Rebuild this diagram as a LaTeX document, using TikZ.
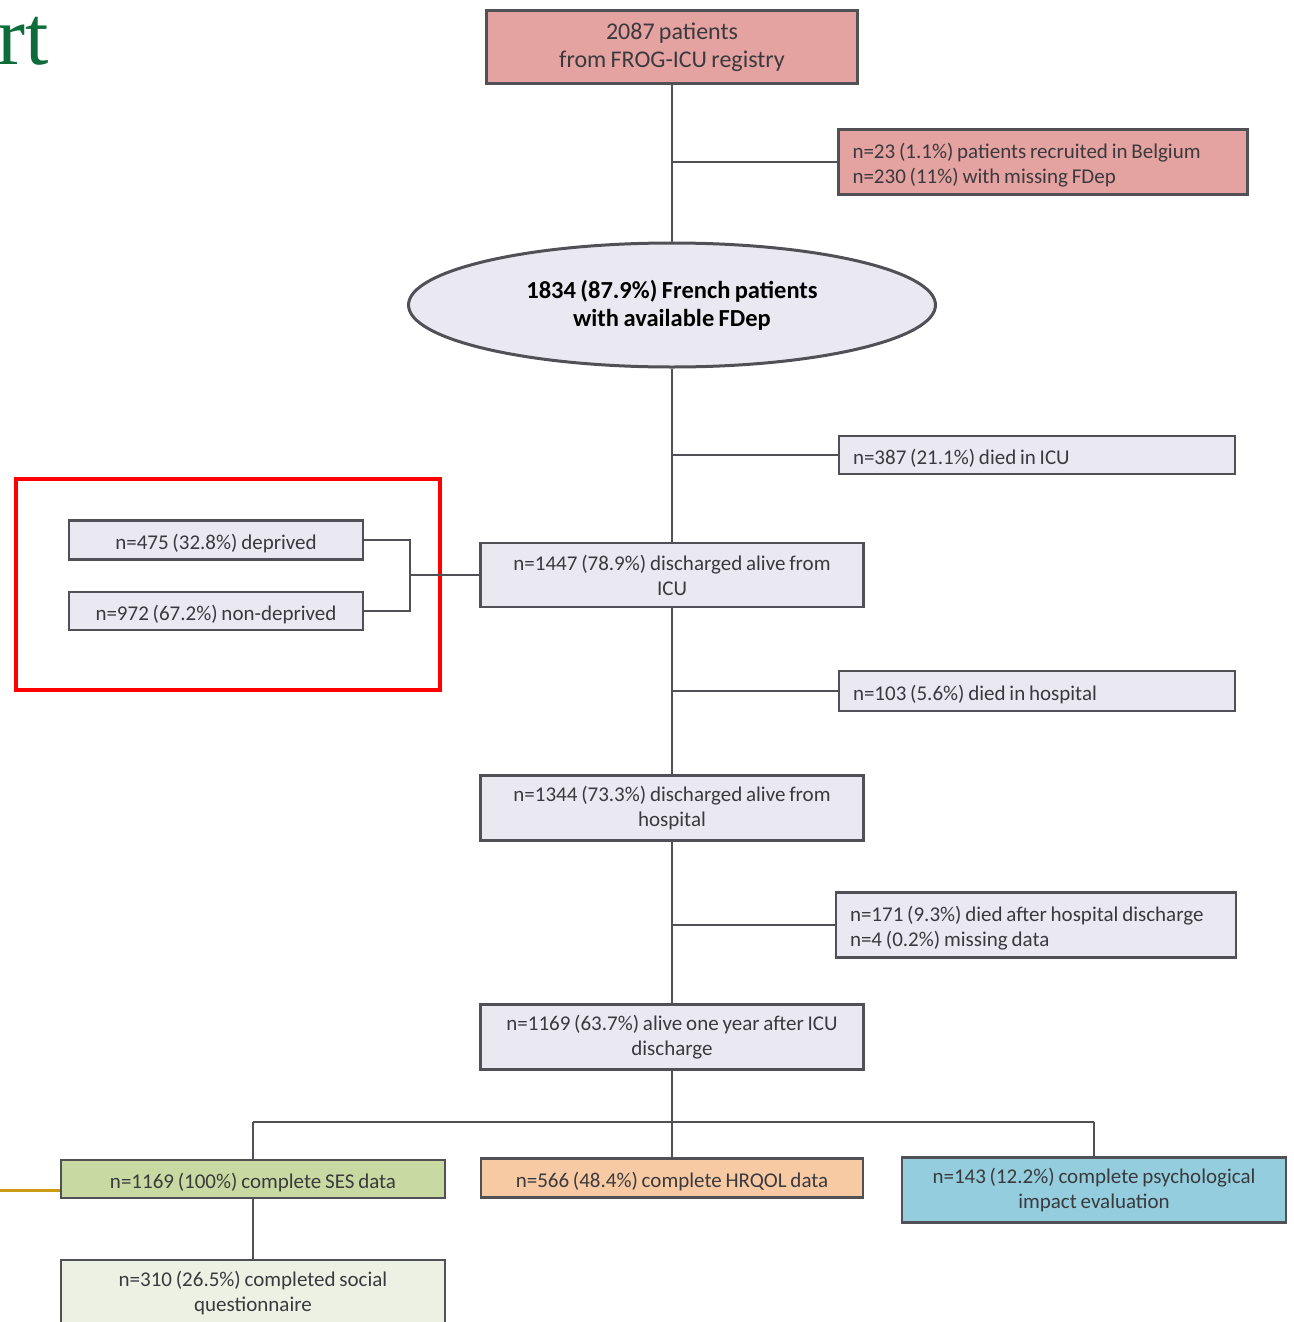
\documentclass[tikz,border=0pt]{standalone}
\usepackage{fontspec}
\setmainfont{Carlito}[WordSpace=0.8]
\newfontfamily\titlefont{Liberation Serif}
\usetikzlibrary{shapes.geometric}

\definecolor{boxline}{RGB}{80,80,86}
\definecolor{boxfill}{RGB}{234,232,240}
\definecolor{pinkfill}{RGB}{228,162,160}
\definecolor{greenfill}{RGB}{200,218,162}
\definecolor{palegreen}{RGB}{237,241,227}
\definecolor{orangefill}{RGB}{248,202,164}
\definecolor{bluefill}{RGB}{148,206,222}
\definecolor{txt}{RGB}{58,58,62}
\definecolor{titlegreen}{RGB}{12,108,58}
\definecolor{gold}{RGB}{204,154,18}

\begin{document}
\begin{tikzpicture}%
	[x=1pt, y=-1pt,
	box/.style={draw=boxline, line width=2.2pt, fill=boxfill, text=txt,
		font=\fontsize{21}{25}\selectfont, align=center, inner sep=0pt,
		execute at begin node={\rule{0pt}{22pt}}},
	sidebox/.style={box, align=flush left, inner xsep=14pt},
	link/.style={draw=boxline, line width=2pt}]
\useasboundingbox (0,0) rectangle (1293,1322);
%%
%% Title remnant and markers
%%
\node[titlegreen, font=\titlefont\fontsize{84}{84}\selectfont, anchor=base east, inner sep=0pt] (title) at (49,64) {rt};
\draw[red, line width=4pt] (16,479) rectangle (440,690);
\draw[gold, line width=3pt] (0,1190) -- (61,1190);
%%
%% Main column
%%
\node[box, fill=pinkfill, minimum width=371, minimum height=73, font=\fontsize{24}{28}\selectfont,
	execute at begin node={\rule{0pt}{25pt}}] (registry) at (672,47) {2087 patients\\from FROG-ICU registry};
\node[ellipse, draw=boxline, line width=3pt, fill=boxfill, text=black, minimum width=527, minimum height=124,
	font=\bfseries\fontsize{24.5}{28}\selectfont, align=center, inner sep=0pt,
	execute at begin node={\rule{0pt}{24pt}}] (french) at (672,305) {1834 (87.9\%) French patients\\with available FDep};
\node[box, minimum width=383, minimum height=64] (icu) at (672,575) {n=1447 (78.9\%) discharged alive from\\ICU};
\node[box, minimum width=383, minimum height=65] (hosp) at (672,808) {n=1344 (73.3\%) discharged alive from\\hospital};
\node[box, minimum width=383, minimum height=65] (alive) at (672,1037) {n=1169 (63.7\%) alive one year after ICU\\discharge};
%%
%% Exclusions
%%
\node[sidebox, fill=pinkfill, text width=381, minimum height=65] (belgium) at (1043,162) {n=23 (1.1\%) patients recruited in Belgium\\n=230 (11\%) with missing FDep};
\node[sidebox, text width=368, minimum height=38] (diedicu) at (1037,455) {n=387 (21.1\%) died in ICU};
\node[sidebox, text width=368, minimum height=40] (diedhosp) at (1037,691) {n=103 (5.6\%) died in hospital};
\node[sidebox, text width=372, minimum height=65] (diedafter) at (1036,925) {n=171 (9.3\%) died after hospital discharge\\n=4 (0.2\%) missing data};
%%
%% Deprivation split
%%
\node[box, minimum width=294, minimum height=39] (deprived) at (216,540) {n=475 (32.8\%) deprived};
\node[box, minimum width=294, minimum height=38] (nondeprived) at (216,611) {n=972 (67.2\%) non-deprived};
\coordinate (split) at (410,575);
%%
%% Outcomes
%%
\node[box, fill=greenfill, minimum width=384, minimum height=38] (ses) at (253,1179) {n=1169 (100\%) complete SES data};
\node[box, fill=orangefill, minimum width=382, minimum height=39] (hrqol) at (672,1178) {n=566 (48.4\%) complete HRQOL data};
\node[box, fill=bluefill, minimum width=384, minimum height=65] (psy) at (1094,1190) {n=143 (12.2\%) complete psychological\\impact evaluation};
\node[box, fill=palegreen, minimum width=384, minimum height=66] (social) at (253,1293) {n=310 (26.5\%) completed social\\questionnaire};
\coordinate (bar) at (672,1122);
%%
%% Connectors
%%
\draw[link] (registry) -- (french);
\draw[link] (french) -- (icu);
\draw[link] (icu) -- (hosp);
\draw[link] (hosp) -- (alive);
\draw[link] (alive) -- (bar);
\draw[link] (registry.south |- belgium.west) -- (belgium.west);
\draw[link] (french.south |- diedicu.west) -- (diedicu.west);
\draw[link] (icu.south |- diedhosp.west) -- (diedhosp.west);
\draw[link] (hosp.south |- diedafter.west) -- (diedafter.west);
\draw[link] (deprived.east) -| (split) |- (nondeprived.east);
\draw[link] (split) -- (icu.west);
\draw[link] (ses.north |- bar) -- (psy.north |- bar);
\draw[link] (ses.north |- bar) -- (ses.north);
\draw[link] (bar) -- (hrqol.north);
\draw[link] (psy.north |- bar) -- (psy.north);
\draw[link] (ses) -- (social);
%%
\end{tikzpicture}
\end{document}
